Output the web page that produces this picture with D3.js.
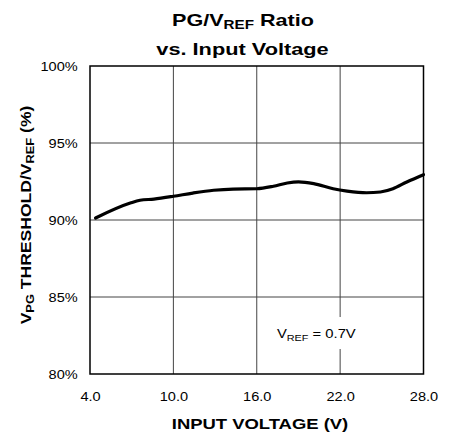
<!DOCTYPE html>
<html>
<head>
<meta charset="utf-8">
<title>PG/VREF Ratio vs. Input Voltage</title>
<script src="https://cdn.jsdelivr.net/npm/d3@7"></script>
<style>
  body { margin: 0; background: #fff; }
  text { font-family: "Liberation Sans", Arial, sans-serif; }
</style>
</head>
<body>
<div id="chart"></div>
<script>
var voltage = [4.4, 6.9, 7.6, 8.6, 10.0, 11.4, 12.9, 14.3, 16.0, 17.2, 18.2, 19.0, 20.1, 21.5, 22.5, 23.9, 24.9, 25.8, 26.8, 28.0];
var ratio   = [90.13, 91.10, 91.28, 91.36, 91.54, 91.75, 91.93, 92.01, 92.03, 92.19, 92.40, 92.47, 92.36, 92.03, 91.88, 91.77, 91.82, 92.03, 92.47, 92.94];
var xTicks = [4, 10, 16, 22, 28];
var yTicks = [80, 85, 90, 95, 100];

var width = 454, height = 437;
// plot box (don't call it "top": window.top is read only)
var pLeft = 90, pRight = 423.5, pTop = 66, pBottom = 374;

var svg = d3.select('#chart').append('svg')
  .attr('width', width).attr('height', height);

var x = d3.scaleLinear().domain([4, 28]).range([pLeft, pRight]);
var y = d3.scaleLinear().domain([80, 100]).range([pBottom, pTop]);

// the original's lettering is a bit wider than Liberation, so stretch it
function placed(px, py, sx, extra) {
  return 'translate(' + px + ',' + py + ')' + (extra || '') + ' scale(' + sx + ',1)';
}

// grid
svg.selectAll('.vgrid').data(xTicks.slice(1, -1)).enter().append('line')
  .attr('x1', d => x(d)).attr('x2', d => x(d))
  .attr('y1', pTop).attr('y2', pBottom)
  .style('stroke', '#444').style('stroke-width', 1);
svg.selectAll('.hgrid').data(yTicks.slice(1, -1)).enter().append('line')
  .attr('y1', d => y(d)).attr('y2', d => y(d))
  .attr('x1', pLeft).attr('x2', pRight)
  .style('stroke', '#444').style('stroke-width', 1);

// axes labels
var xAxis = d3.axisBottom(x).tickValues(xTicks).tickSize(0).tickPadding(18)
  .tickFormat(d3.format('.1f'));
var gx = svg.append('g').attr('transform', 'translate(0,' + pBottom + ')').call(xAxis);
gx.select('.domain').remove();
gx.selectAll('text').style('font-size', '13px').style('fill', '#000')
  .style('font-family', '"Liberation Sans", Arial, sans-serif')
  .attr('transform', 'scale(1.12,1)');

var yAxis = d3.axisLeft(y).tickValues(yTicks).tickSize(0).tickPadding(11)
  .tickFormat(d => d + '%');
var gy = svg.append('g').attr('transform', 'translate(' + pLeft + ',0)').call(yAxis);
gy.select('.domain').remove();
gy.selectAll('text').style('font-size', '13px').style('fill', '#000')
  .style('font-family', '"Liberation Sans", Arial, sans-serif')
  .attr('transform', 'scale(1.12,1)');

// annotation with white backing over grid
svg.append('rect').attr('x', x(20.8)).attr('y', y(83.7)).attr('width', 45).attr('height', 32)
  .style('fill', '#fff');
var ann = svg.append('text').attr('transform', placed(x(17.45), y(82.34), 1.14))
  .style('font-size', '13px');
ann.append('tspan').text('V');
ann.append('tspan').text('REF').style('font-size', '9.5px').attr('dy', 3);
ann.append('tspan').text(' = 0.7V').attr('dy', -3);

// frame
svg.append('rect').attr('x', pLeft).attr('y', pTop)
  .attr('width', pRight - pLeft).attr('height', pBottom - pTop)
  .style('fill', 'none').style('stroke', '#000').style('stroke-width', 1.5);

// data line
var pts = voltage.map((v, i) => [v, ratio[i]]);
svg.append('path').datum(pts)
  .attr('d', d3.line().x(d => x(d[0])).y(d => y(d[1])).curve(d3.curveMonotoneX))
  .style('fill', 'none').style('stroke', '#000').style('stroke-width', 3.2)
  .style('stroke-linecap', 'round');

// title
var t1 = svg.append('text').attr('transform', placed(243, 26, 1.27))
  .attr('text-anchor', 'middle')
  .style('font-size', '17px').style('font-weight', 'bold');
t1.append('tspan').text('PG/V');
t1.append('tspan').text('REF').style('font-size', '12px').attr('dy', 3);
t1.append('tspan').text(' Ratio').attr('dy', -3);
svg.append('text').attr('transform', placed(242.5, 54.5, 1.28))
  .attr('text-anchor', 'middle')
  .style('font-size', '17px').style('font-weight', 'bold').text('vs. Input Voltage');

// axis titles
svg.append('text').attr('transform', placed(260, 429, 1.23))
  .attr('text-anchor', 'middle')
  .style('font-size', '15px').style('font-weight', 'bold').text('INPUT VOLTAGE (V)');

var yt = svg.append('text').attr('transform', placed(31, 215, 1.17, ' rotate(-90)'))
  .attr('text-anchor', 'middle').style('font-size', '15px').style('font-weight', 'bold');
yt.append('tspan').text('V');
yt.append('tspan').text('PG').style('font-size', '11px').attr('dy', 3);
yt.append('tspan').text(' THRESHOLD/V').attr('dy', -3);
yt.append('tspan').text('REF').style('font-size', '11px').attr('dy', 3);
yt.append('tspan').text(' (%)').attr('dy', -3);
</script>
</body>
</html>
